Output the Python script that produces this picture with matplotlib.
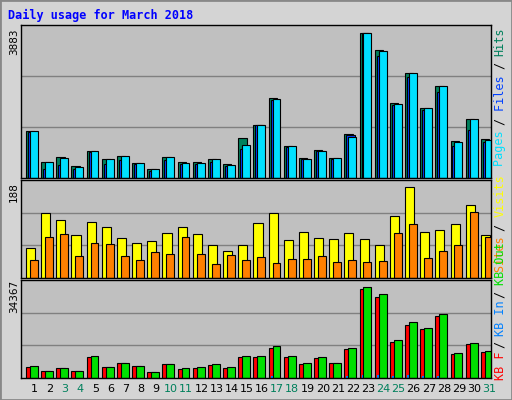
import matplotlib
matplotlib.use("Agg")
import matplotlib.pyplot as plt
from matplotlib.patches import Rectangle

days = list(range(1, 32))
weekend = [3, 4, 10, 11, 17, 18, 24, 25, 31]
hits = [1244, 415, 556, 309, 715, 503, 583, 397, 238, 556, 424, 424, 503, 371, 1059, 1429, 2144, 847, 529, 741, 529, 1165, 3883, 3415, 2012, 2806, 1880, 2462, 979, 1588, 1032]
files = [1218, 238, 344, 238, 688, 371, 477, 371, 185, 477, 371, 371, 424, 318, 768, 1403, 2091, 821, 503, 715, 503, 1138, 3883, 3256, 1959, 2700, 1827, 2303, 847, 1271, 953]
pages = [1244, 415, 530, 282, 715, 503, 583, 397, 238, 556, 397, 397, 503, 344, 874, 1429, 2118, 847, 503, 715, 529, 1085, 3883, 3388, 1986, 2806, 1880, 2462, 953, 1588, 1006]
visits = [62, 134, 119, 88, 115, 105, 82, 72, 76, 93, 105, 91, 68, 56, 68, 113, 134, 78, 94, 82, 80, 93, 80, 68, 128, 188, 94, 98, 111, 150, 88]
sites = [37, 84, 90, 46, 72, 70, 46, 37, 54, 50, 84, 50, 29, 48, 37, 44, 31, 40, 40, 46, 34, 37, 34, 35, 92, 112, 42, 56, 68, 136, 84]
kb_f = [4265, 2760, 3763, 2760, 8028, 4265, 5770, 4641, 2384, 5394, 3512, 3889, 5018, 3889, 8028, 8028, 11415, 8028, 5394, 7652, 5770, 11039, 33614, 30604, 13673, 20070, 18565, 23457, 9157, 12920, 9910]
kb_in = [150, 150, 150, 150, 150, 150, 150, 150, 150, 150, 150, 150, 150, 150, 150, 150, 600, 150, 150, 150, 150, 700, 1100, 1000, 800, 1000, 800, 700, 150, 150, 150]
kb_out = [4641, 2760, 3763, 2760, 8404, 4265, 5770, 4641, 2384, 5394, 3889, 4265, 5394, 4265, 8404, 8404, 12167, 8404, 5770, 8028, 5770, 11415, 34367, 31733, 14425, 21199, 18942, 24210, 9533, 13296, 10286]
max_labels = ["3883", "188", "34367"]

W, H = 512, 400
fig = plt.figure(figsize=(W/100, H/100), dpi=100)
fig.patch.set_facecolor("#d4d4d4")
fig.patches.append(Rectangle((0, 0), 1, 1, transform=fig.transFigure, fill=False, edgecolor="#888888", lw=2))

def mkax(y0, y1):
    ax = fig.add_axes([21/W, 1 - y1/H, 470/W, (y1 - y0)/H])
    ax.set_facecolor("#c0c0c0")
    ax.set_xlim(0, 31)
    for s in ax.spines.values():
        s.set_color("black"); s.set_linewidth(1)
    ax.set_xticks([]); ax.set_yticks([])
    return ax

ek = dict(edgecolor="black", linewidth=0.8)
x = [d - 1 for d in days]

def grid(ax, top):
    for g in (1/3, 2/3):
        ax.axhline(g * top, color="#808080", lw=1, zorder=0)

ax1 = mkax(25, 178)
top1 = max(hits) / 0.95
ax1.set_ylim(0, top1); grid(ax1, top1)
ax1.bar([v + 0.33 for v in x], hits, 0.55, align="edge", color="#00805c", **ek)
ax1.bar([v + 0.46 for v in x], files, 0.55, align="edge", color="#0040ff", **ek)
ax1.bar([v + 0.59 for v in x], pages, 0.52, align="edge", color="#00e0ff", **ek)

ax2 = mkax(180, 278)
top2 = max(visits) / 0.93
ax2.set_ylim(0, top2); grid(ax2, top2)
ax2.bar([v + 0.33 for v in x], visits, 0.6, align="edge", color="#ffff00", **ek)
ax2.bar([v + 0.59 for v in x], sites, 0.52, align="edge", color="#ff8000", **ek)

ax3 = mkax(280, 378)
top3 = max(kb_out) / 0.93
ax3.set_ylim(0, top3); grid(ax3, top3)
ax3.bar([v + 0.33 for v in x], kb_f, 0.6, align="edge", color="#ff0000", **ek)
ax3.bar([v + 0.46 for v in x], kb_in, 0.3, align="edge", color="#0080ff", linewidth=0)
ax3.bar([v + 0.59 for v in x], kb_out, 0.52, align="edge", color="#00e000", **ek)

for d in days:
    fig.text((21 + (d - 1 + 0.9) * 470/31)/W, 1 - 389/H, str(d), ha="center", va="center",
             fontsize=8, family="DejaVu Sans", color="#00805c" if d in weekend else "black")

fig.text(8/W, 1 - 15/H, "Daily usage for March 2018", fontsize=8.5, weight="bold",
         family="DejaVu Sans Mono", color="#0000ff", va="center")

for lab, yc in zip(max_labels, (42, 192, 296)):
    fig.text(14/W, 1 - yc/H, lab, rotation=90, fontsize=7.5, ha="center", va="center", family="DejaVu Sans")

def rlab_bottom(parts, ybot, step=6.9):
    y = ybot
    for t, c in parts:
        fig.text(500/W, 1 - y/H, t, rotation=90, fontsize=8.5, family="DejaVu Sans Mono",
                 color=c, ha="center", va="bottom")
        y -= len(t) * step

rlab_bottom([("Pages ", "#00e0ff"), ("/ ", "black"), ("Files ", "#0040ff"), ("/ ", "black"), ("Hits", "#00805c")], 166)
rlab_bottom([("Sites ", "#ff8000"), ("/ ", "black"), ("Visits", "#ffff00")], 272)
rlab_bottom([("KB F ", "#ff0000"), ("/ ", "black"), ("KB In ", "#0080ff"), ("/ ", "black"), ("KB Out", "#00e000")], 380, 6.3)

fig.savefig("out.png", dpi=100, facecolor=fig.get_facecolor())
